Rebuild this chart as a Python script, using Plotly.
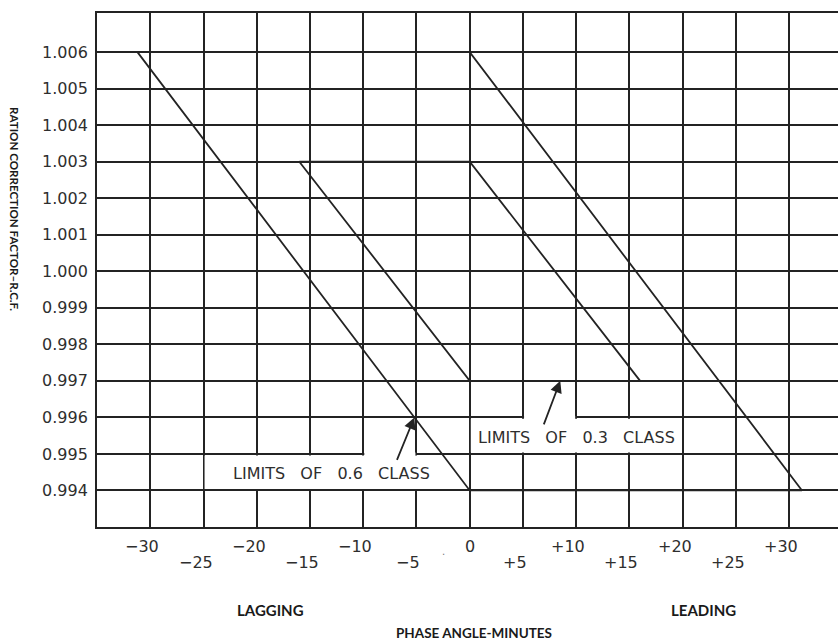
import plotly.graph_objects as go

# ---------------- data ----------------
y_tick_vals = [0.994, 0.995, 0.996, 0.997, 0.998, 0.999, 1.000,
               1.001, 1.002, 1.003, 1.004, 1.005, 1.006]
y_tick_text = ["0.994", "0.995", "0.996", "0.997", "0.998", "0.999", "1.000",
               "1.001", "1.002", "1.003", "1.004", "1.005", "1.006"]

x_tick_vals = [-30, -25, -20, -15, -10, -5, 0, 5, 10, 15, 20, 25, 30]
x_tick_text = ["\u221230", "\u221225", "\u221220", "\u221215", "\u221210", "\u22125",
               "0", "+5", "+10", "+15", "+20", "+25", "+30"]

# limits of 0.6 accuracy class (parallelogram)
class06_phase = [-31.2, 0, 31.2, 0, -31.2]
class06_rcf = [1.006, 1.006, 0.994, 0.994, 1.006]

# limits of 0.3 accuracy class (parallelogram)
class03_phase = [-16.0, 0, 16.0, 0, -16.0]
class03_rcf = [1.003, 1.003, 0.997, 0.997, 1.003]

INK = "#232323"
TXT = "#2e2e2e"
LW = 1.8

fig = go.Figure()
for px, py in [(class06_phase, class06_rcf), (class03_phase, class03_rcf)]:
    fig.add_trace(go.Scatter(x=px, y=py, mode="lines",
                             line=dict(color=INK, width=LW),
                             showlegend=False, hoverinfo="skip"))

# white-out areas in the grid where the label boxes sit
dx, dy = 0.1, 0.00004
blanks = [
    (-25 + dx, 0 - dx, 0.994 + dy, 0.995 - dy),
    (-10 + dx, -5 - dx, 0.995 - dy, 0.995 + dy),
    (0 + dx, 20 - dx, 0.995 + dy, 0.996 - dy),
    (5 + dx, 10 - dx, 0.996 - dy, 0.996 + dy),
]
for x0, x1, y0, y1 in blanks:
    fig.add_shape(type="rect", xref="x", yref="y", x0=x0, x1=x1, y0=y0, y1=y1,
                  fillcolor="white", line=dict(width=0), layer="between")

annotations = []
# staggered phase-angle tick labels
for v, t in zip(x_tick_vals, x_tick_text):
    lower = (v % 10) != 0
    annotations.append(dict(
        x=v, y=0, xref="x", yref="paper", text=t, showarrow=False,
        xanchor="center", yanchor="middle",
        xshift=0 if v == 0 else -8, yshift=-35 if lower else -19.5,
        font=dict(family="DejaVu Sans", size=16, color=TXT)))

annotations.append(dict(x=-2.5, y=0, xref="x", yref="paper", text=".",
                        showarrow=False, xanchor="center", yanchor="middle", yshift=-24,
                        font=dict(family="DejaVu Sans", size=10, color="#777")))

# class labels with arrows
sp = "\u00a0\u00a0\u00a0"
annotations.append(dict(x=-13, y=0.99447, xref="x", yref="y",
                        text=f"LIMITS{sp}OF{sp}0.6{sp}CLASS", xanchor="center", yanchor="middle",
                        showarrow=False, font=dict(family="DejaVu Sans", size=16, color=TXT)))
annotations.append(dict(x=10, y=0.99546, xref="x", yref="y",
                        text=f"LIMITS{sp}OF{sp}0.3{sp}CLASS", xanchor="center", yanchor="middle",
                        showarrow=False, font=dict(family="DejaVu Sans", size=16, color=TXT)))
annotations.append(dict(x=-5.2, y=0.996, xref="x", yref="y", text="",
                        showarrow=True, arrowhead=2, arrowsize=1.3, arrowwidth=1.8,
                        arrowcolor=INK, ax=-18, ay=44, standoff=0))
annotations.append(dict(x=8.5, y=0.997, xref="x", yref="y", text="",
                        showarrow=True, arrowhead=2, arrowsize=1.3, arrowwidth=1.8,
                        arrowcolor=INK, ax=-17, ay=45, standoff=0))

# axis titles and side labels
def bold(size, family="Lato"):
    return dict(family=family, size=size, color="#1a1a1a", weight="bold")

annotations.append(dict(x=0, y=0.6187, xref="paper", yref="paper",
                        text="RATION CORRECTION FACTOR\u2013R.C.F.", textangle=90,
                        xanchor="center", yanchor="middle",
                        showarrow=False, xshift=-83, font=bold(11.6)))
annotations.append(dict(x=0.2335, y=0, xref="paper", yref="paper", text="LAGGING",
                        xanchor="center", yanchor="middle",
                        showarrow=False, yshift=-83, font=bold(15)))
annotations.append(dict(x=0.819, y=0, xref="paper", yref="paper", text="LEADING",
                        xanchor="center", yanchor="middle",
                        showarrow=False, yshift=-83, font=bold(15)))
annotations.append(dict(x=0.5088, y=0, xref="paper", yref="paper", text="PHASE ANGLE-MINUTES",
                        xanchor="center", yanchor="middle",
                        showarrow=False, yshift=-106, font=bold(13.5)))

fig.update_layout(
    width=838, height=640,
    margin=dict(l=97, r=0, t=13, b=113),
    paper_bgcolor="white", plot_bgcolor="white",
    annotations=annotations,
    xaxis=dict(range=[-35, 34.58], tick0=0, dtick=5, showticklabels=False,
               showgrid=True, gridcolor=INK, gridwidth=LW, zeroline=False,
               showline=True, linecolor=INK, linewidth=LW, mirror=True, ticks=""),
    yaxis=dict(range=[0.993, 1.00707], tickmode="array", tickvals=y_tick_vals,
               ticktext=y_tick_text, showgrid=True, gridcolor=INK, gridwidth=LW,
               zeroline=False, showline=True, linecolor=INK, linewidth=LW,
               ticks="", ticklabelstandoff=4,
               tickfont=dict(family="DejaVu Sans", size=16, color=TXT)),
)

fig.write_html("out.html", config={"displayModeBar": False},
               post_script="document.body.style.margin='0px';")
